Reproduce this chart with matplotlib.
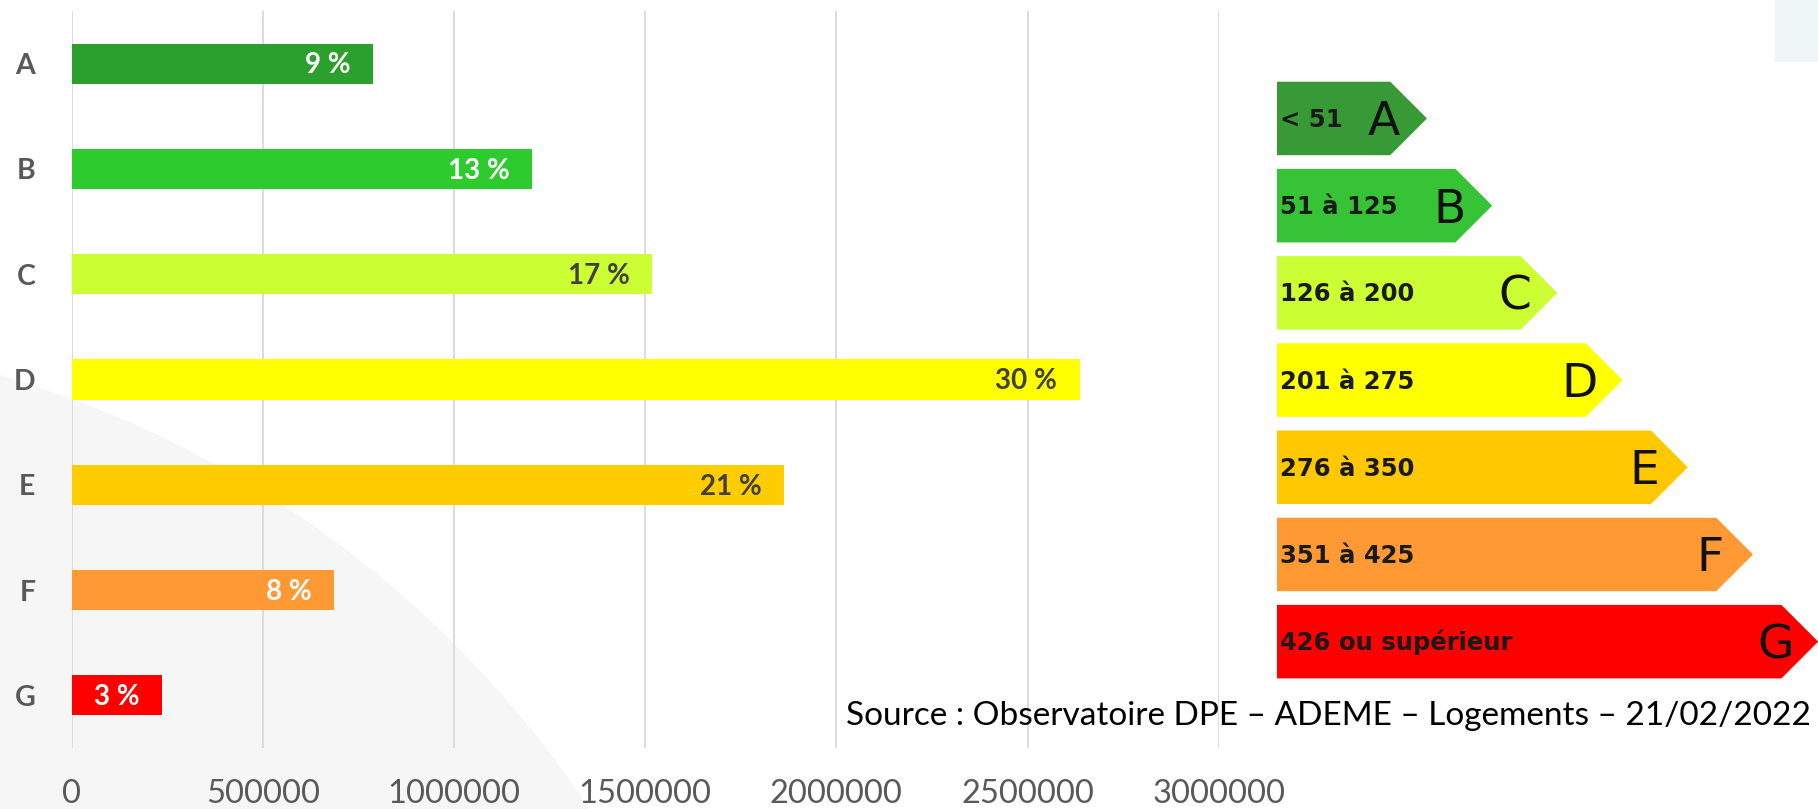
import matplotlib.pyplot as plt
from matplotlib.patches import Circle, Rectangle, Polygon

plt.rcParams['font.family'] = ['Lato', 'DejaVu Sans']

# données : nombre de logements par étiquette DPE
categories = ['A', 'B', 'C', 'D', 'E', 'F', 'G']
logements = [788000, 1205000, 1517000, 2636000, 1863000, 687000, 236000]
pourcentages = ['9 %', '13 %', '17 %', '30 %', '21 %', '8 %', '3 %']
x_ticks = [0, 500000, 1000000, 1500000, 2000000, 2500000, 3000000]

# étiquette énergie (kWh/m².an)
classes_dpe = ['A', 'B', 'C', 'D', 'E', 'F', 'G']
seuils_dpe = ['< 51', '51 à 125', '126 à 200', '201 à 275', '276 à 350', '351 à 425', '426 ou supérieur']

bar_colors = ['#2ca02c', '#2dcb2d', '#ccff33', '#ffff00', '#ffcc00', '#ff9933', '#ff0000']
arrow_colors = ['#379a37', '#36c436', '#ccff33', '#ffff00', '#ffc800', '#ff9933', '#ff0000']
label_colors = ['white', 'white', '#404040', '#404040', '#404040', 'white', 'white']

W, H = 1818, 809
fig = plt.figure(figsize=(W / 100, H / 100), dpi=100)

# fond : arc gris clair + petit rectangle en haut à droite
bg = fig.add_axes([0, 0, 1, 1], zorder=-1)
bg.set_xlim(0, W)
bg.set_ylim(H, 0)
bg.axis('off')
bg.add_patch(Circle((-300, 1400), 1068, color='#f6f6f6', lw=0))
bg.add_patch(Rectangle((1775, 0), 43, 62, color='#eef5f7', lw=0))

# graphique en barres
ax = fig.add_axes([71.5 / W, 1 - 748 / H, 1147.2 / W, 737 / H])
ax.set_facecolor('none')
ax.barh(range(len(categories)), logements, height=0.38, color=bar_colors, zorder=2)
ax.set_xlim(0, 3000000)
ax.set_ylim(6.5, -0.5)
ax.set_xticks(x_ticks)
ax.set_xticklabels([str(t) for t in x_ticks])
ax.set_yticks(range(len(categories)))
ax.set_yticklabels(categories, fontweight='bold')
ax.tick_params(axis='x', length=0, pad=22, labelsize=23.5, labelcolor='#595959')
ax.tick_params(axis='y', length=0, pad=26, labelsize=20.5, labelcolor='#595959')
ax.grid(axis='x', color='#d9d9d9', lw=1.3, zorder=0)
ax.set_axisbelow(True)
for s in ax.spines.values():
    s.set_visible(False)

for i, v in enumerate(logements):
    ax.annotate(pourcentages[i], xy=(v, i), xytext=(-16, -7), textcoords='offset points',
                ha='right', va='baseline', fontsize=20, fontweight='bold',
                color=label_colors[i], zorder=3)

# flèches de l'étiquette énergie
ov = fig.add_axes([0, 0, 1, 1], zorder=2)
ov.set_xlim(0, W)
ov.set_ylim(H, 0)
ov.axis('off')
x_left = 1277
h = 73.5
for i, (cls, seuil) in enumerate(zip(classes_dpe, seuils_dpe)):
    top = 81.7 + 87.2 * i
    tip = 1427 + 65.2 * i
    mid = top + h / 2
    pts = [(x_left, top), (tip - h / 2, top), (tip, mid), (tip - h / 2, top + h), (x_left, top + h)]
    ov.add_patch(Polygon(pts, closed=True, facecolor=arrow_colors[i], edgecolor='none'))
    ov.text(x_left + 3, mid + 8.5, seuil, fontsize=17.5, fontweight='bold', family='DejaVu Sans',
            color='#1a1a1a', ha='left', va='baseline')
    ov.text(tip - 43, mid + 17, cls, fontsize=34, family='DejaVu Sans',
            color='#111111', ha='center', va='baseline')

fig.text(1811 / W, 1 - 716 / H, 'Source : Observatoire DPE – ADEME – Logements – 21/02/2022',
         ha='right', va='center', fontsize=24, color='black', zorder=5)

fig.savefig('out.png', dpi=100)
